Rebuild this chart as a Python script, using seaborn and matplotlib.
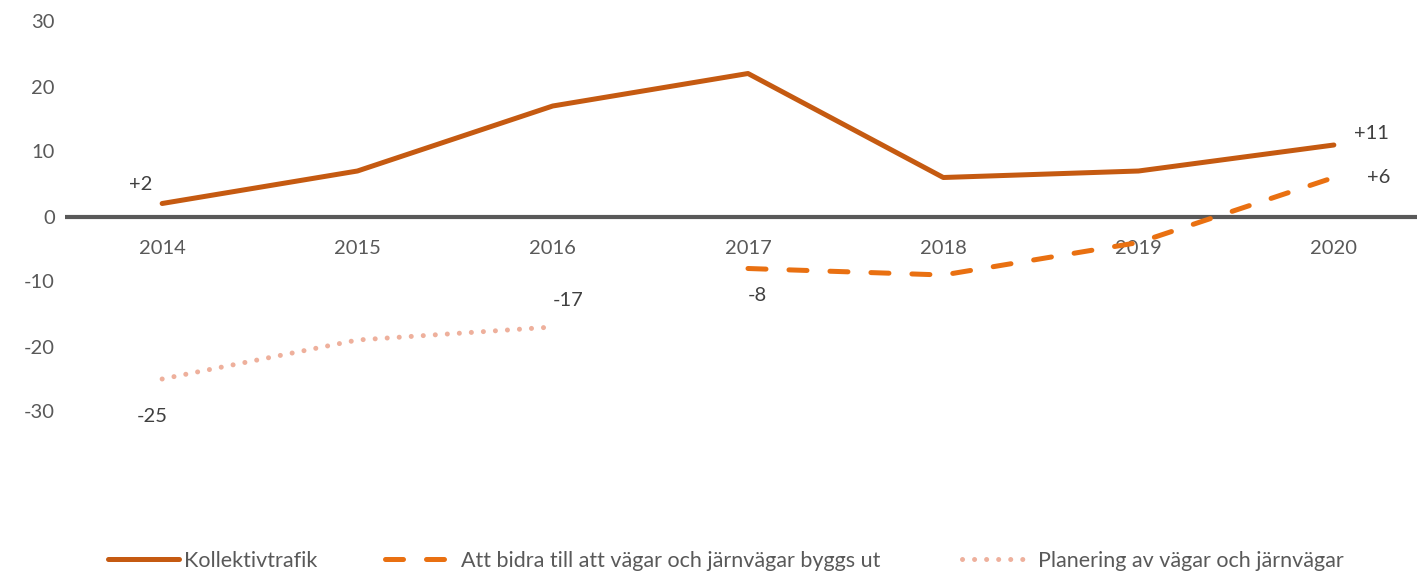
import seaborn as sns
import matplotlib.pyplot as plt
import pandas as pd

years = ["2014", "2015", "2016", "2017", "2018", "2019", "2020"]
kollektiv = [2, 7, 17, 22, 6, 7, 11]
bidra_years = ["2017", "2018", "2019", "2020"]
bidra = [-8, -9, -4, 6]
plan_years = ["2014", "2015", "2016"]
planering = [-25, -19, -17]
yticks = [-30, -20, -10, 0, 10, 20, 30]

names = ["Kollektivtrafik",
         "Att bidra till att vägar och järnvägar byggs ut",
         "Planering av vägar och järnvägar"]

sns.set_style("white")
plt.rcParams["font.family"] = ["Lato", "DejaVu Sans"]
plt.rcParams["axes.unicode_minus"] = False

W, H = 1417, 573
fig = plt.figure(figsize=(W / 100, H / 100), dpi=100)
ax = fig.add_axes([64.5 / W, 1 - 476.5 / H, 1367 / W, 455 / H])

pos = {y: i for i, y in enumerate(years)}
d1 = pd.DataFrame({"x": [pos[y] for y in years], "v": kollektiv})
d2 = pd.DataFrame({"x": [pos[y] for y in bidra_years], "v": bidra})
d3 = pd.DataFrame({"x": [pos[y] for y in plan_years], "v": planering})

ax.axhline(0, color="#595959", lw=3, zorder=1)
sns.lineplot(data=d1, x="x", y="v", ax=ax, color="#C55A11", lw=3.6,
             label=names[0], solid_capstyle="round", zorder=3)
sns.lineplot(data=d2, x="x", y="v", ax=ax, color="#E97011", lw=3.6,
             label=names[1], zorder=3)
ax.lines[-1].set_linestyle((0, (3.6, 4.6)))
ax.lines[-1].set_dash_capstyle("round")
sns.lineplot(data=d3, x="x", y="v", ax=ax, color="#EEB09C", lw=3.6,
             label=names[2], zorder=3)
ax.lines[-1].set_linestyle((0, (0.01, 2.4)))
ax.lines[-1].set_dash_capstyle("round")

lab = dict(fontsize=14.5, color="#404040")
ax.text(pos["2014"] - 0.11, kollektiv[0] + 3, "+2", ha="center", va="center", **lab)
ax.text(pos["2020"] + 0.19, kollektiv[6] + 1.8, "+11", ha="center", va="center", **lab)
ax.text(pos["2020"] + 0.23, bidra[3], "+6", ha="center", va="center", **lab)
ax.text(pos["2017"] + 0.05, bidra[0] - 4.2, "-8", ha="center", va="center", **lab)
ax.text(pos["2014"] - 0.05, planering[0] - 5.8, "-25", ha="center", va="center", **lab)
ax.text(pos["2016"] + 0.08, planering[2] + 4, "-17", ha="center", va="center", **lab)

ax.set_xlim(-0.5, 6.5)
ax.set_ylim(-40, 30)
ax.set_yticks(yticks)
ax.set_xticks(range(len(years)))
ax.set_xticklabels(years)
ax.set_xlabel("")
ax.set_ylabel("")
for s in ax.spines.values():
    s.set_visible(False)
ax.tick_params(axis="both", length=0, labelsize=14.5, labelcolor="#595959")
ax.tick_params(axis="y", pad=7)
# year labels sit just below the zero line
for t in ax.get_xticklabels():
    t.set_va("center")
    t.set_y(40 / 70 - 27 / 455)

ax.get_legend().remove()
h, l = ax.get_legend_handles_labels()
starts = [108, 385, 962]
for hi, li, x0 in zip(h, l, starts):
    fig.legend([hi], [li], loc="center left", bbox_to_anchor=(x0 / W, 1 - 561 / H),
               frameon=False, fontsize=15.5, labelcolor="#595959",
               handlelength=3.3, handletextpad=0.25, borderpad=0, borderaxespad=0)

fig.savefig("out.png", dpi=100)
